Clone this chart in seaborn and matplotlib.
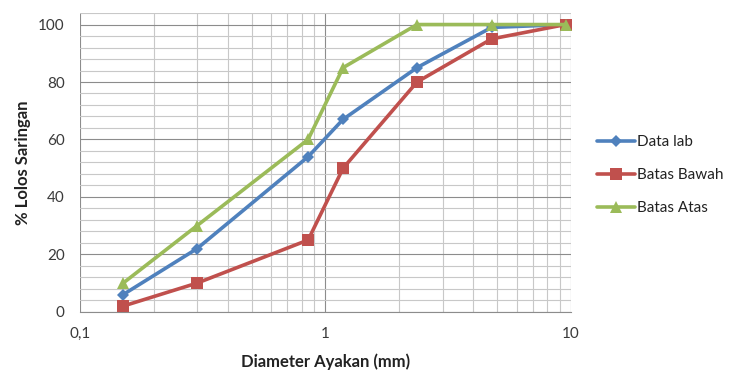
import numpy as np
import pandas as pd
import matplotlib
matplotlib.use('Agg')
import matplotlib.pyplot as plt
import matplotlib.ticker as mticker
import seaborn as sns

# Data ayakan
diameter = [0.15, 0.3, 0.85, 1.18, 2.36, 4.75, 9.5]
data_lab = [6, 22, 54, 67, 85, 99, 100]
batas_bawah = [2, 10, 25, 50, 80, 95, 100]
batas_atas = [10, 30, 60, 85, 100, 100, 100]

series_names = ['Data lab', 'Batas Bawah', 'Batas Atas']
colors = ['#4F81BD', '#C0504D', '#9BBB59']
markers = ['D', 's', '^']

df = pd.DataFrame({
    'diameter': diameter * 3,
    'lolos': data_lab + batas_bawah + batas_atas,
    'seri': [n for n in series_names for _ in diameter],
})

sns.set_style('white')
plt.rcParams['font.family'] = ['Lato', 'DejaVu Sans']

fig = plt.figure(figsize=(7.33, 3.73), dpi=100)
ax = fig.add_axes([0.109, 0.164, 0.67, 0.801])

sizes = {'Data lab': 6, 'Batas Bawah': 8, 'Batas Atas': 8}
for name, col, mk in zip(series_names, colors, markers):
    sub = df[df['seri'] == name]
    sns.lineplot(data=sub, x='diameter', y='lolos', ax=ax, color=col,
                 marker=mk, markersize=sizes[name], markeredgewidth=0,
                 linewidth=2.6, label=name, zorder=3)

ax.set_xscale('log')
ax.set_xlim(0.1, 10)
ax.set_ylim(0, 104)

ax.xaxis.set_major_locator(mticker.FixedLocator([0.1, 1, 10]))
ax.xaxis.set_major_formatter(mticker.FixedFormatter(['0,1', '1', '10']))
ax.xaxis.set_minor_locator(mticker.LogLocator(base=10, subs=np.arange(2, 10)))
ax.xaxis.set_minor_formatter(mticker.NullFormatter())
ax.yaxis.set_major_locator(mticker.FixedLocator([0, 20, 40, 60, 80, 100]))
ax.yaxis.set_minor_locator(mticker.MultipleLocator(4))

ax.grid(which='major', color='#8c8c8c', linewidth=0.8)
ax.grid(which='minor', color='#c8c8c8', linewidth=0.8)
ax.set_axisbelow(True)

for s in ['top', 'right', 'left']:
    ax.spines[s].set_visible(False)
ax.spines['bottom'].set_color('#8c8c8c')

ax.tick_params(axis='x', which='major', direction='out', length=6, width=0.8,
               color='#8c8c8c', labelsize=11, pad=5, labelcolor='#3a3a3a')
ax.tick_params(axis='x', which='minor', length=0)
ax.tick_params(axis='y', which='both', length=0, labelsize=11, pad=11,
               labelcolor='#3a3a3a')

ax.set_xlabel('Diameter Ayakan (mm)', fontsize=12, fontweight='bold',
              color='#222222', labelpad=9)
ax.set_ylabel('% Lolos Saringan', fontsize=12, fontweight='bold',
              color='#222222', labelpad=5)

ax.legend(loc='center left', bbox_to_anchor=(0.796, 0.53),
          bbox_transform=fig.transFigure, frameon=False, fontsize=11,
          handlelength=2.5, handletextpad=0.1, labelspacing=1.25,
          labelcolor='#222222')

fig.savefig('out.png', dpi=100)
